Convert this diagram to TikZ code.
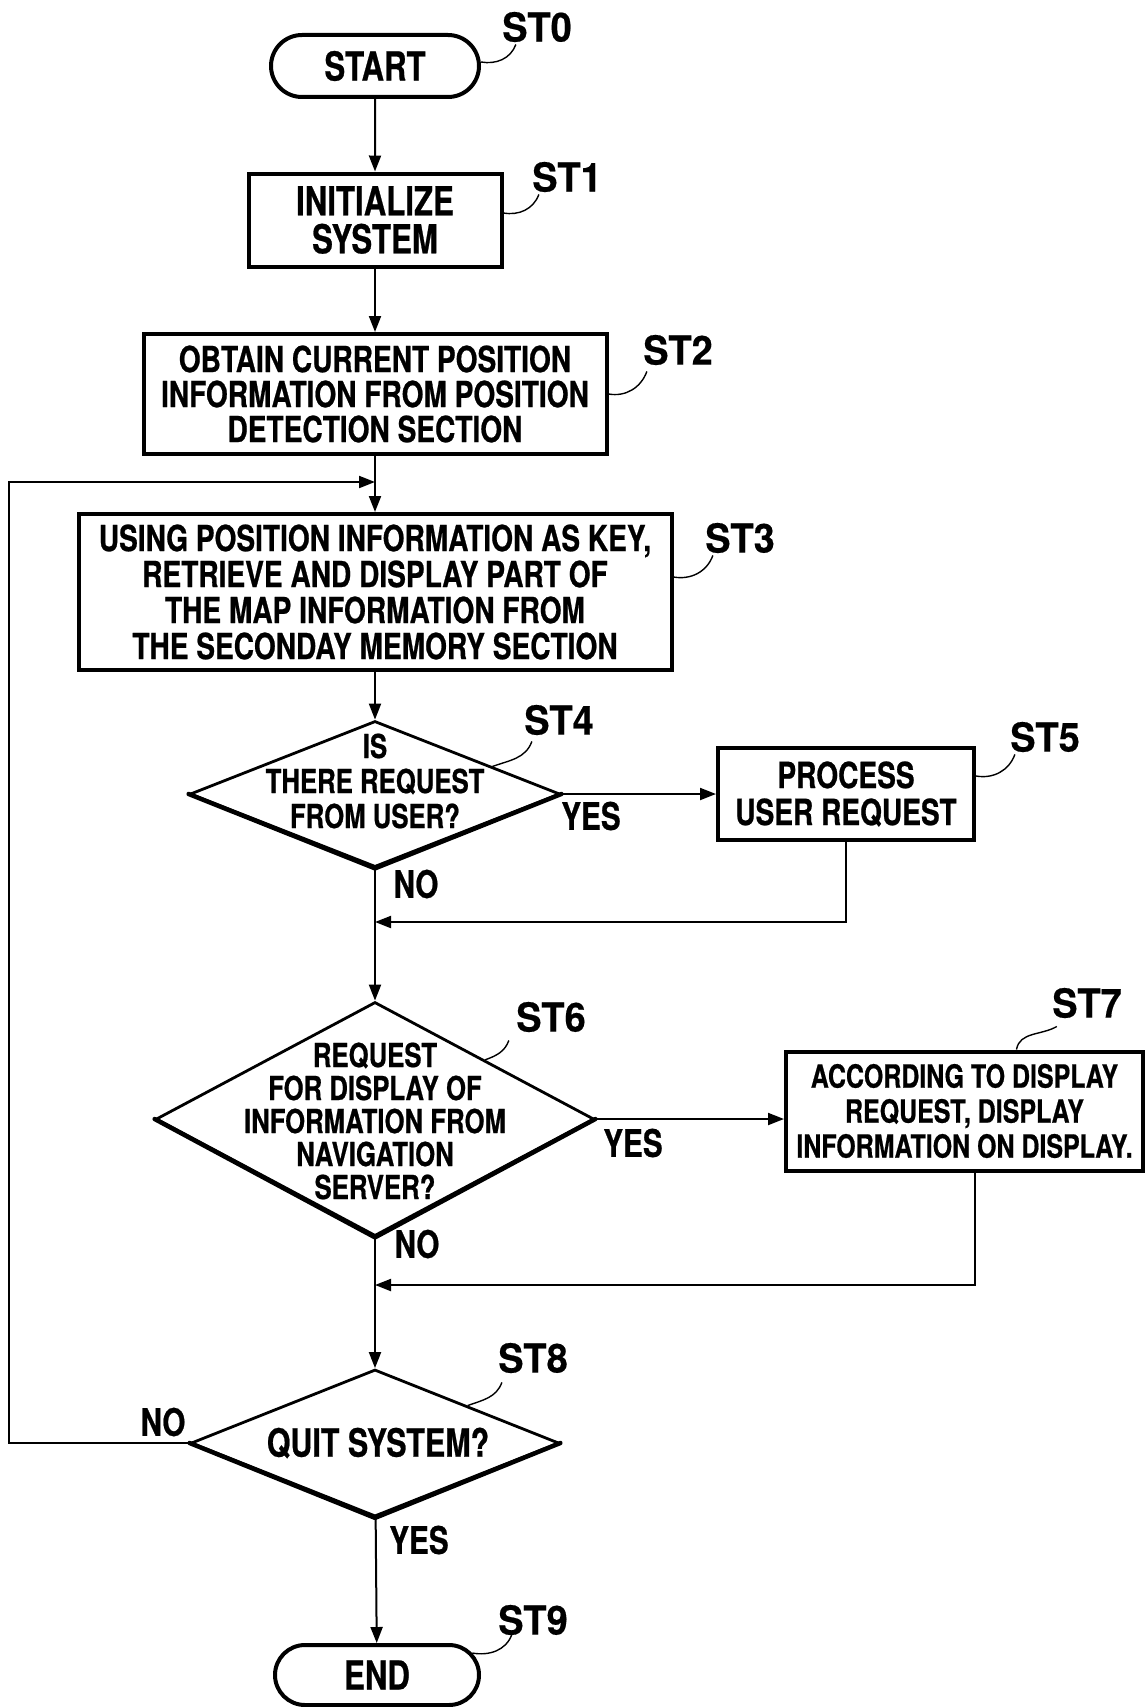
\documentclass[tikz,border=0pt]{standalone}
\usepackage{fontspec}
\newfontfamily\flowfont[FakeStretch=0.78, BoldFeatures={FakeBold=0.6}]{TeX Gyre Heros}
\newfontfamily\stepfont[FakeStretch=0.95, BoldFeatures={FakeBold=0.4}]{TeX Gyre Heros}
\newcommand{\fsz}[2]{\fontsize{#1}{#2}\selectfont}
\usetikzlibrary{shapes.geometric}
\usetikzlibrary{shapes.misc}
\usetikzlibrary{arrows.meta}
\usetikzlibrary{calc}

\tikzset{
  box/.style={draw, line width=2pt, rectangle, align=center, inner sep=0pt,
    font=\flowfont\bfseries\fsz{18}{18}},
  terminal/.style={draw, line width=2pt, rounded rectangle, inner sep=0pt,
    font=\flowfont\bfseries\fsz{20}{20}},
  decision/.style={draw, line width=1.4pt, diamond, inner sep=0pt},
  dtext/.style={align=center, inner sep=0pt, font=\flowfont\bfseries\fsz{16.5}{16.5}},
  answer/.style={inner sep=1pt, font=\flowfont\bfseries\fsz{19}{19}},
  steplabel/.style={inner sep=1pt, font=\stepfont\bfseries\fsz{20}{20}},
  flow/.style={line width=1pt, -{Triangle[length=8pt,width=6pt]}},
  leader/.style={line width=0.7pt},
  heavy/.style={line width=2.2pt, line cap=round, line join=round},
}

\begin{document}
\begin{tikzpicture}[x=0.5pt,y=0.5pt]
  \useasboundingbox (0,0) rectangle (1147,-1707);

  % main column
  \node[terminal, minimum width=104pt, minimum height=31pt] (start) at (375,-66) {START};
  \node[box, minimum width=126.5pt, minimum height=46.5pt,
    font=\flowfont\bfseries\fsz{20}{19}] (st1) at (375,-220) {INITIALIZE\\SYSTEM};
  \node[box, minimum width=231.5pt, minimum height=60pt,
    font=\flowfont\bfseries\fsz{18}{17.5}] (st2) at (375,-394)
    {OBTAIN CURRENT POSITION\\INFORMATION FROM POSITION\\DETECTION SECTION};
  \node[box, minimum width=296.5pt, minimum height=78pt] (st3) at (375,-592)
    {USING POSITION INFORMATION AS KEY,\\RETRIEVE AND DISPLAY PART OF\\THE MAP INFORMATION FROM\\THE SECONDAY MEMORY SECTION};
  \node[decision, minimum width=185pt, minimum height=73pt] (d4) at (375,-794) {};
  \node[dtext, font=\flowfont\bfseries\fsz{16.5}{17.5}] (t4) at (375,-781)
    {IS\\THERE REQUEST\\FROM USER?};
  \node[box, minimum width=128pt, minimum height=46pt,
    font=\flowfont\bfseries\fsz{18}{18.5}] (st5) at (846,-794) {PROCESS\\USER REQUEST};
  \node[decision, minimum width=219pt, minimum height=117pt] (d6) at (375,-1119) {};
  \node[dtext] (t6) at (375,-1121)
    {REQUEST\\FOR DISPLAY OF\\INFORMATION FROM\\NAVIGATION\\SERVER?};
  \node[box, minimum width=178.5pt, minimum height=59.5pt,
    font=\flowfont\bfseries\fsz{16}{17.5}] (st7) at (964.5,-1111)
    {ACCORDING TO DISPLAY\\REQUEST, DISPLAY\\INFORMATION ON DISPLAY.};
  \node[decision, minimum width=184pt, minimum height=73.5pt] (d8) at (375,-1443) {};
  \node[dtext, font=\flowfont\bfseries\fsz{19.5}{20}] (t8) at (378,-1443) {QUIT SYSTEM?};
  \node[terminal, minimum width=102pt, minimum height=30pt] (finish) at (377,-1675) {END};

  % heavy lower edges of the decisions
  \draw[heavy] (d4.west) -- (d4.south) -- (d4.east);
  \draw[heavy] (d6.west) -- (d6.south) -- (d6.east);
  \draw[heavy] (d8.west) -- (d8.south) -- (d8.east);

  % junctions
  \coordinate (j3) at (375,-482);
  \coordinate (loop) at (9,-482);
  \coordinate (j6) at (375,-922);
  \coordinate (j8) at (375,-1285);

  % flow lines
  \draw[flow] (start) -- (st1);
  \draw[flow] (st1) -- (st2);
  \draw[flow] (st2) -- (st3);
  \draw[flow] (st3) -- (d4);
  \draw[flow] (d4) -- (st5);
  \draw[flow] (d4) -- (d6);
  \draw[flow] (st5.south) |- (j6);
  \draw[flow] (d6.east) -- (d6.east -| st7.west);
  \draw[flow] (d6) -- (d8);
  \draw[flow] ([xshift=5pt]st7.south) |- (j8);
  \draw[flow] (d8) -- (finish);
  \draw[flow] (d8.west) -| (loop) -- (j3);

  % answers
  \node[answer] (yes4) at (591,-816) {YES};
  \node[answer] (no4) at (416,-884) {NO};
  \node[answer] (yes6) at (633,-1143) {YES};
  \node[answer] (no6) at (417,-1244) {NO};
  \node[answer] (no8) at (163,-1422) {NO};
  \node[answer] (yes8) at (419,-1540) {YES};

  % step numbers
  \node[steplabel] (l0) at (537,-27) {ST0};
  \node[steplabel] (l1) at (567,-177) {ST1};
  \node[steplabel] (l2) at (678,-350) {ST2};
  \node[steplabel] (l3) at (740,-538) {ST3};
  \node[steplabel] (l4) at (559,-720) {ST4};
  \node[steplabel] (l5) at (1045,-737) {ST5};
  \node[steplabel] (l6) at (551,-1017) {ST6};
  \node[steplabel] (l7) at (1087,-1003) {ST7};
  \node[steplabel] (l8) at (533,-1358) {ST8};
  \node[steplabel] (l9) at (533,-1620) {ST9};

  % leaders
  \draw[leader] ([yshift=2pt]start.east) to[out=-10,in=-110] ([xshift=8pt]l0.south west);
  \draw[leader] ([yshift=3.5pt]st1.east) to[out=-10,in=-110] ([xshift=4.5pt]l1.south west);
  \draw[leader] (st2.east) to[out=-10,in=-110] ([xshift=3pt,yshift=-2pt]l2.south west);
  \draw[leader] ([yshift=7.5pt]st3.east) to[out=-10,in=-110] ([xshift=5pt]l3.south west);
  \draw[leader] ($(d4.north)!0.63!(d4.east)$) to[out=20,in=-110] ([xshift=5pt,yshift=-2pt]l4.south west);
  \draw[leader] ([yshift=9pt]st5.east) to[out=-10,in=-110] ([xshift=3.5pt]l5.south west);
  \draw[leader] (d6.north east) to[out=20,in=-110] ([xshift=-2.5pt,yshift=-3pt]l6.south west);
  \draw[leader] ([xshift=26pt]st7.north) to[out=80,in=-150] ([xshift=3.5pt,yshift=-3pt]l7.south west);
  \draw[leader] (d8.north east) to[out=20,in=-110] ([xshift=3pt,yshift=-3.5pt]l8.south west);
  \draw[leader] (finish.13) to[out=-10,in=-110] ([xshift=8pt,yshift=1.5pt]l9.south west);
\end{tikzpicture}
\end{document}
